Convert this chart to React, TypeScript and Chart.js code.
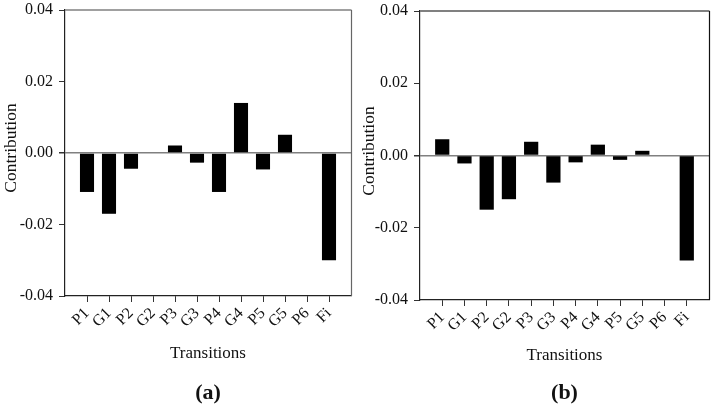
import React, { useEffect, useRef } from "react";
import { Chart, registerables } from "chart.js";

Chart.register(...registerables);

const categories = ["P1", "G1", "P2", "G2", "P3", "G3", "P4", "G4", "P5", "G5", "P6", "Fi"];
const contributionA = [-0.0109, -0.017, -0.0044, 0, 0.0021, -0.0027, -0.0109, 0.014, -0.0046, 0.0051, 0, -0.03];
const contributionB = [0.0045, -0.0022, -0.015, -0.0121, 0.0038, -0.0075, -0.0019, 0.003, -0.0012, 0.0013, 0, -0.0291];
const yTickValues = [-0.04, -0.02, 0, 0.02, 0.04];
const xTitle = "Transitions";
const yTitle = "Contribution";

const SERIF = "'Liberation Serif', 'Times New Roman', serif";

type PanelSpec = {
  values: number[];
  tag: string;
  yAxisWidth: number;
  xAxisHeight: number;
  padTop: number;
  padRight: number;
  yTitleX: number;
  yTitleY: number;
  xTitleY: number;
  tagY: number;
  topColor: string;
  topWidth: number;
  rightColor: string;
};

function Panel({ spec, left }: { spec: PanelSpec; left: number }) {
  const ref = useRef<HTMLCanvasElement | null>(null);
  useEffect(() => {
    if (!ref.current) return;
    const textPlugin = {
      id: "extras",
      afterDraw(chart: any) {
        const { ctx, chartArea } = chart;
        const ca = chartArea;
        ctx.save();
        ctx.strokeStyle = spec.topColor;
        ctx.lineWidth = spec.topWidth;
        ctx.beginPath();
        ctx.moveTo(ca.left, ca.top);
        ctx.lineTo(ca.right + 0.5, ca.top);
        ctx.stroke();
        ctx.strokeStyle = spec.rightColor;
        ctx.lineWidth = 1.2;
        ctx.beginPath();
        ctx.moveTo(Math.round(ca.right) + 0.5, ca.top);
        ctx.lineTo(Math.round(ca.right) + 0.5, ca.bottom);
        ctx.stroke();
        ctx.fillStyle = "#111";
        ctx.textAlign = "center";
        ctx.textBaseline = "middle";
        const cx = (ca.left + ca.right) / 2;
        ctx.font = `17px ${SERIF}`;
        ctx.fillText(xTitle, cx, spec.xTitleY);
        ctx.font = `bold 22px ${SERIF}`;
        ctx.fillText(spec.tag, cx, spec.tagY);
        ctx.save();
        ctx.translate(spec.yTitleX, spec.yTitleY);
        ctx.rotate(-Math.PI / 2);
        ctx.font = `17.5px ${SERIF}`;
        ctx.fillText(yTitle, 0, 0);
        ctx.restore();
        ctx.restore();
      },
    };
    const chart = new Chart(ref.current, {
      type: "bar",
      data: {
        datasets: [
          {
            data: spec.values.map((v, i) => ({ x: i + 1, y: v })),
            backgroundColor: "#000",
            borderWidth: 0,
            barPercentage: 0.64,
            categoryPercentage: 1,
          },
        ],
      },
      options: {
        animation: false,
        responsive: false,
        devicePixelRatio: 1,
        layout: { padding: { left: 0, right: spec.padRight, top: spec.padTop, bottom: 0 } },
        plugins: { legend: { display: false }, tooltip: { enabled: false }, title: { display: false } },
        scales: {
          x: {
            type: "linear",
            offset: false,
            min: 0,
            max: categories.length + 1,
            afterBuildTicks: (scale: any) => {
              scale.ticks = categories.map((_, i) => ({ value: i + 1 }));
            },
            afterFit: (scale: any) => {
              scale.height = spec.xAxisHeight;
              scale.paddingLeft = 0;
              scale.paddingRight = 0;
            },
            ticks: {
              autoSkip: false,
              minRotation: 45,
              maxRotation: 45,
              padding: 2,
              color: "#111",
              font: { family: SERIF, size: 16 },
              callback: (v: any) => categories[Number(v) - 1] ?? "",
            },
            grid: {
              offset: false,
              drawOnChartArea: false,
              color: "#333",
              tickColor: "#333",
              tickLength: 6,
            },
            border: { color: "#222", width: 1.2 },
          },
          y: {
            type: "linear",
            min: -0.04,
            max: 0.04,
            afterBuildTicks: (scale: any) => {
              scale.ticks = yTickValues.map((v) => ({ value: v }));
            },
            afterFit: (scale: any) => {
              scale.width = spec.yAxisWidth;
              scale.paddingTop = 0;
              scale.paddingBottom = 0;
            },
            ticks: {
              padding: 6,
              color: "#111",
              font: { family: SERIF, size: 16 },
              callback: (v: any) => (Math.abs(Number(v)) < 1e-9 ? "0.00" : Number(v).toFixed(2)),
            },
            grid: {
              color: (c: any) => (c.tick && Math.abs(c.tick.value) < 1e-9 ? "#808080" : "rgba(0,0,0,0)"),
              lineWidth: (c: any) => (c.tick && Math.abs(c.tick.value) < 1e-9 ? 1.5 : 1),
              tickColor: "#333",
              tickLength: 6,
            },
            border: { color: "#222", width: 1.2 },
          },
        },
      },
      plugins: [textPlugin],
    } as any);
    return () => chart.destroy();
  }, [spec]);
  return (
    <div style={{ position: "absolute", left, top: 0, width: 357, height: 405 }}>
      <canvas ref={ref} width={357} height={405} style={{ display: "block" }} />
    </div>
  );
}

const specA: PanelSpec = {
  values: contributionA,
  tag: "(a)",
  yAxisWidth: 65,
  xAxisHeight: 109,
  padTop: 10,
  padRight: 6,
  yTitleX: 11,
  yTitleY: 148,
  xTitleY: 354,
  tagY: 393,
  topColor: "#808080",
  topWidth: 1.5,
  rightColor: "#666",
};

const specB: PanelSpec = {
  values: contributionB,
  tag: "(b)",
  yAxisWidth: 63,
  xAxisHeight: 105,
  padTop: 11,
  padRight: 5,
  yTitleX: 12.5,
  yTitleY: 151,
  xTitleY: 356,
  tagY: 393,
  topColor: "#808080",
  topWidth: 2,
  rightColor: "#111",
};

export default function App() {
  return (
    <div style={{ position: "fixed", left: 0, top: 0, width: 714, height: 405, background: "#fff" }}>
      <Panel spec={specA} left={0} />
      <Panel spec={specB} left={357} />
    </div>
  );
}
